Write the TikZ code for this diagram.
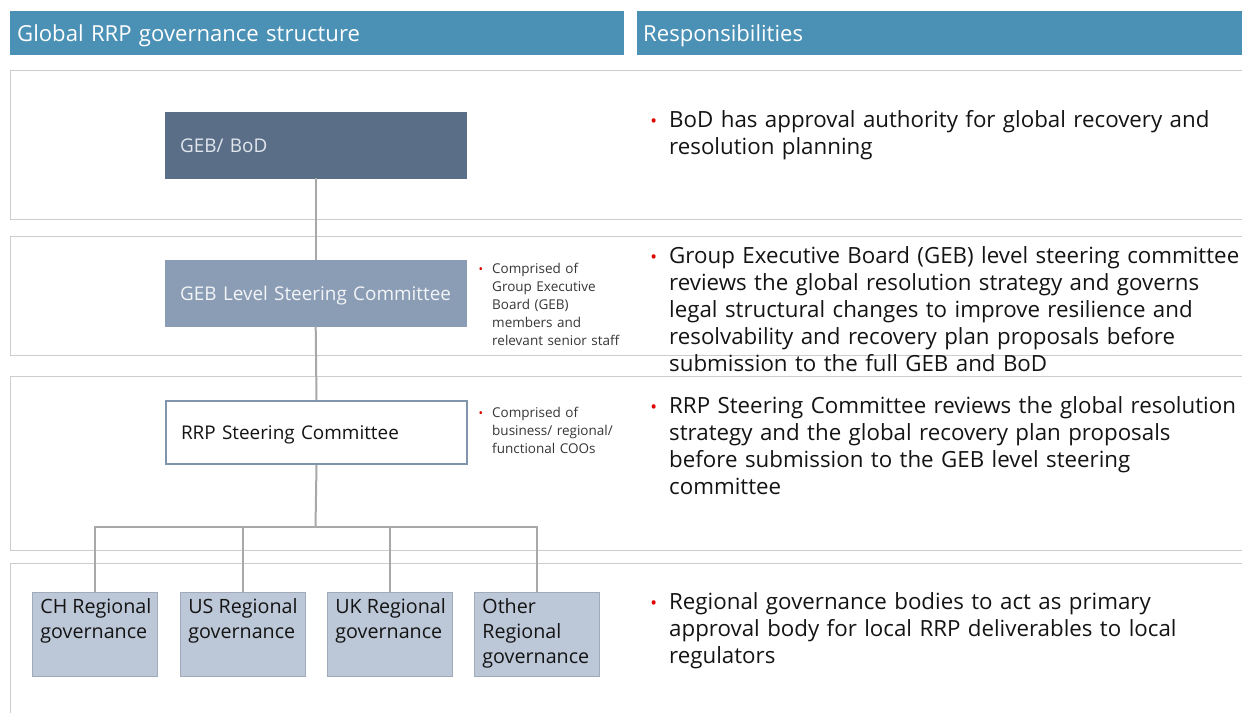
\documentclass[tikz,border=0pt]{standalone}
\usepackage{fontspec}
\setmainfont{Open Sans}
\definecolor{hdrblue}{RGB}{75,145,182}
\definecolor{gebdark}{RGB}{90,110,136}
\definecolor{gebmid}{RGB}{138,157,181}
\definecolor{rrpborder}{RGB}{128,148,172}
\definecolor{regfill}{RGB}{188,199,215}
\definecolor{regborder}{RGB}{160,170,185}
\definecolor{bandline}{RGB}{205,205,205}
\definecolor{connline}{RGB}{168,168,168}
\definecolor{bulletred}{RGB}{225,0,0}
\definecolor{txt}{RGB}{20,20,20}
\definecolor{notetxt}{RGB}{55,55,55}
\newcommand\rbul{\llap{\textcolor{bulletred}{\fontsize{18}{18}\selectfont\raisebox{0pt}{•}}\hspace{12pt}}}
\newcommand\nbul{\llap{\textcolor{bulletred}{\fontsize{12}{12}\selectfont\raisebox{0pt}{•}}\hspace{9pt}}}
\newcommand\regtext{\vspace*{6pt}\leftskip=8pt\relax\fontsize{19.7}{25}\selectfont\color{txt}}
\begin{document}
\begin{tikzpicture}[x=1pt,y=-1pt,
  hdr/.style={anchor=north west, fill=hdrblue, text=white, inner xsep=7pt, inner ysep=0pt,
    minimum height=44pt, text height=18pt, text depth=2pt, align=left, font=\fontsize{22.1}{26}\selectfont},
  mainbox/.style={anchor=north west, minimum width=301pt, minimum height=66pt,
    text height=16pt, text depth=2pt,
    text width=271pt, inner xsep=15pt, inner ysep=0pt, align=left, font=\fontsize{18.9}{22}\selectfont},
  regbox/.style={anchor=north west, fill=regfill, draw=regborder, line width=0.8pt, inner sep=0pt},
  rtext/.style={anchor=north west, inner sep=0pt, text width=590pt, align=left, text=txt,
    font=\fontsize{22.3}{27}\selectfont},
  note/.style={anchor=north west, inner sep=0pt, text width=150pt, align=left, text=notetxt,
    font=\fontsize{13.5}{18}\selectfont},
  band/.style={draw=bandline, line width=1pt},
  conn/.style={draw=connline, line width=2pt}]
\useasboundingbox (0,0) rectangle (1242,713);
\fill[white] (0,0) rectangle (1242,713);
% section bands
\draw[band] (1242,70) -- (10,70) -- (10,219) -- (1242,219);
\draw[band] (1242,236) -- (10,236) -- (10,355) -- (1242,355);
\draw[band] (1242,376) -- (10,376) -- (10,550) -- (1242,550);
\draw[band] (1242,563) -- (10,563) -- (10,713);
% headers
\node[hdr, minimum width=614pt, text width=600pt] (h1) at (10,11) {Global RRP governance structure};
\node[hdr, minimum width=605pt, text width=593pt, inner xsep=6pt] (h2) at (637,11) {Responsibilities};
% main boxes
\node[mainbox, fill=gebdark, draw=gebdark, text={rgb,255:red,225;green,230;blue,236}] (geb) at (165,112) {GEB/ BoD};
\node[mainbox, fill=gebmid, draw=gebmid, text={rgb,255:red,242;green,244;blue,247}] (gsc) at (165,260) {GEB Level Steering Committee};
\node[mainbox, fill=white, draw=rrpborder, line width=2pt, minimum height=63pt, text=txt] (rrp) at (165,400) {RRP Steering Committee};
% regional boxes
\node[regbox] (ch) at (32,592) {\parbox[c][84pt][t]{125pt}{\regtext CH Regional\\governance}};
\node[regbox] (us) at (180,592) {\parbox[c][84pt][t]{125pt}{\regtext US Regional\\governance}};
\node[regbox] (uk) at (327,592) {\parbox[c][84pt][t]{125pt}{\regtext UK Regional\\governance}};
\node[regbox] (oth) at (474,592) {\parbox[c][84pt][t]{125pt}{\regtext Other\\Regional\\governance}};
% connectors
\coordinate (j) at (315.5,527);
\draw[conn] (geb.south) -- (gsc.north);
\draw[conn] (gsc.south) -- (rrp.north);
\draw[conn] (rrp.south) -- (j);
\draw[conn] (j) -| (ch.north);
\draw[conn] (j) -| (us.north);
\draw[conn] (j) -| (uk.north);
\draw[conn] (j) -| (oth.north);
% notes
\node[note] (n1) at (492,263) {\nbul Comprised of\\Group Executive\\Board (GEB)\\members and\\relevant senior staff};
\node[note] (n2) at (492,407) {\nbul Comprised of\\business/ regional/\\functional COOs};
% responsibilities
\node[rtext] (r1) at (669,110) {\rbul BoD has approval authority for global recovery and\\resolution planning};
\node[rtext] (r2) at (669,246) {\rbul Group Executive Board (GEB) level steering committee\\reviews the global resolution strategy and governs\\legal structural changes to improve resilience and\\resolvability and recovery plan proposals before\\submission to the full GEB and BoD};
\node[rtext] (r3) at (669,396) {\rbul RRP Steering Committee reviews the global resolution\\strategy and the global recovery plan proposals\\before submission to the GEB level steering\\committee};
\node[rtext] (r4) at (669,592) {\rbul Regional governance bodies to act as primary\\approval body for local RRP deliverables to local\\regulators};
\end{tikzpicture}
\end{document}
